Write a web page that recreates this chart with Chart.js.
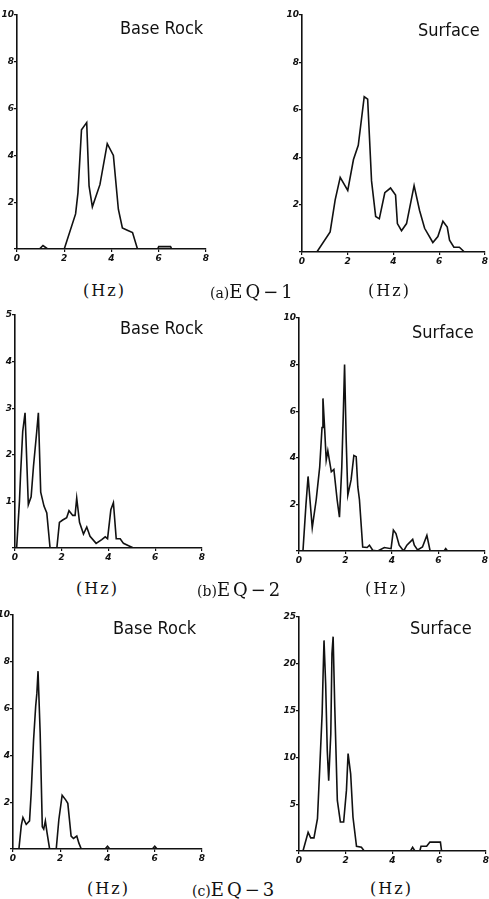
<!DOCTYPE html>
<html>
<head>
<meta charset="utf-8">
<script src="https://cdn.jsdelivr.net/npm/chart.js@4"></script>
<style>
  body { margin:0; background:#fff; }
  #page { position:relative; width:489px; height:899px; overflow:hidden; background:#fff; }
  canvas { position:absolute; }
  .ttl { position:absolute; font-family:"DejaVu Sans Condensed","DejaVu Sans",sans-serif; font-size:18px; line-height:18px; color:#111; white-space:nowrap; }
  .hz { position:absolute; font-family:"DejaVu Serif",serif; font-size:16px; line-height:18px; letter-spacing:2px; color:#111; white-space:nowrap; }
  .eq { position:absolute; font-family:"DejaVu Serif",serif; font-size:18px; line-height:19px; color:#111; white-space:nowrap; }
  .eq small { font-size:14px; letter-spacing:0; }
  .eq span { letter-spacing:3px; }
</style>
</head>
<body>
<div id="page">
  <canvas id="c1"></canvas><canvas id="c2"></canvas>
  <canvas id="c3"></canvas><canvas id="c4"></canvas>
  <canvas id="c5"></canvas><canvas id="c6"></canvas>

  <div class="ttl" style="left:120px;top:19px">Base Rock</div>
  <div class="ttl" style="left:418px;top:21px">Surface</div>
  <div class="ttl" style="left:120px;top:319px">Base Rock</div>
  <div class="ttl" style="left:412px;top:323px">Surface</div>
  <div class="ttl" style="left:113px;top:619px">Base Rock</div>
  <div class="ttl" style="left:410px;top:619px">Surface</div>

  <div class="hz" style="left:83px;top:282px">(Hz)</div>
  <div class="eq" style="left:210px;top:282px"><small>(a)</small><span>EQ−1</span></div>
  <div class="hz" style="left:368px;top:282px">(Hz)</div>
  <div class="hz" style="left:76px;top:580px">(Hz)</div>
  <div class="eq" style="left:197px;top:580px"><small>(b)</small><span>EQ−2</span></div>
  <div class="hz" style="left:365px;top:580px">(Hz)</div>
  <div class="hz" style="left:87px;top:880px">(Hz)</div>
  <div class="eq" style="left:192px;top:880px"><small>(c)</small><span>EQ−3</span></div>
  <div class="hz" style="left:370px;top:880px">(Hz)</div>
</div>
<script>
// Fourier spectra: frequency (Hz) and amplitude
const hzTicks = [0, 2, 4, 6, 8];

// (a) EQ-1
const eq1BaseHz  = [0, 0.95, 1.1, 1.3, 2.0, 2.48, 2.58, 2.73, 2.95, 3.05, 3.19, 3.51, 3.82, 4.08, 4.29, 4.46, 4.67, 4.89, 5.1, 5.95, 6.0, 6.5, 6.55];
const eq1BaseAmp = [0, 0, 0.15, 0, 0, 1.5, 2.4, 5.1, 5.4, 2.7, 1.8, 2.75, 4.5, 4.0, 1.7, 0.9, 0.8, 0.7, 0, 0, 0.1, 0.1, 0];
const eq1SurfHz  = [0, 0.65, 1.23, 1.45, 1.67, 2.0, 2.25, 2.46, 2.72, 2.87, 3.04, 3.22, 3.38, 3.62, 3.87, 4.09, 4.17, 4.35, 4.57, 4.9, 5.14, 5.36, 5.72, 5.94, 6.16, 6.35, 6.45, 6.64, 6.88, 7.1];
const eq1SurfAmp = [0, 0, 0.85, 2.2, 3.15, 2.6, 3.9, 4.5, 6.55, 6.45, 3.0, 1.5, 1.4, 2.5, 2.7, 2.4, 1.2, 0.9, 1.2, 2.8, 1.75, 1.0, 0.4, 0.65, 1.3, 1.05, 0.5, 0.2, 0.2, 0];

// (b) EQ-2
const eq2BaseHz  = [0, 0.07, 0.19, 0.24, 0.33, 0.43, 0.57, 0.69, 0.79, 0.93, 1.0, 1.1, 1.24, 1.36, 1.5, 1.79, 1.9, 2.04, 2.21, 2.31, 2.47, 2.57, 2.64, 2.76, 2.93, 3.07, 3.21, 3.47, 3.71, 3.86, 3.96, 4.1, 4.21, 4.33, 4.5, 4.64, 4.86, 5.07];
const eq2BaseAmp = [0, 0, 1.0, 1.6, 2.5, 2.9, 0.93, 1.1, 1.75, 2.5, 2.9, 1.2, 0.9, 0.75, 0, 0, 0.55, 0.6, 0.65, 0.8, 0.7, 0.7, 1.07, 0.55, 0.3, 0.45, 0.25, 0.1, 0.18, 0.24, 0.2, 0.82, 0.97, 0.2, 0.2, 0.1, 0.05, 0];
const eq2SurfHz  = [0, 0.17, 0.3, 0.39, 0.57, 0.74, 0.89, 0.99, 1.03, 1.1, 1.17, 1.24, 1.39, 1.5, 1.64, 1.74, 1.84, 1.91, 1.96, 2.03, 2.1, 2.24, 2.36, 2.46, 2.53, 2.6, 2.74, 2.93, 3.03, 3.17, 3.39, 3.67, 3.96, 4.06, 4.17, 4.31, 4.5, 4.64, 4.89, 4.96, 5.1, 5.31, 5.5, 5.64, 6.24, 6.31, 6.39];
const eq2SurfAmp = [0, 0, 2.0, 3.2, 1.0, 2.2, 3.6, 5.3, 6.55, 5.3, 3.9, 4.3, 3.4, 3.5, 2.2, 1.45, 3.6, 6.05, 8.0, 4.75, 2.4, 3.05, 4.1, 4.05, 2.75, 2.2, 0.17, 0.15, 0.25, 0.03, 0, 0.15, 0.1, 0.9, 0.75, 0.25, 0, 0.25, 0.5, 0.25, 0.05, 0.17, 0.67, 0, 0, 0.1, 0];

// (c) EQ-3
const eq3BaseHz  = [0, 0.25, 0.35, 0.42, 0.56, 0.7, 0.77, 0.87, 0.96, 1.01, 1.06, 1.15, 1.24, 1.3, 1.37, 1.44, 1.55, 1.83, 1.94, 2.08, 2.23, 2.32, 2.46, 2.56, 2.7, 2.79, 2.89, 3.9, 4.0, 4.1, 5.9, 6.0, 6.1];
const eq3BaseAmp = [0, 0, 1.0, 1.35, 1.05, 1.2, 2.4, 4.65, 6.1, 6.65, 7.6, 4.95, 0.95, 0.85, 1.2, 0.7, 0, 0, 1.25, 2.3, 2.1, 1.95, 0.55, 0.45, 0.55, 0.25, 0, 0, 0.12, 0, 0, 0.12, 0];
const eq3SurfHz  = [0, 0.17, 0.39, 0.5, 0.64, 0.79, 0.89, 0.99, 1.03, 1.07, 1.14, 1.21, 1.27, 1.36, 1.41, 1.46, 1.53, 1.64, 1.77, 1.91, 2.03, 2.1, 2.21, 2.31, 2.46, 2.67, 2.79, 4.77, 4.86, 4.96, 5.17, 5.22, 5.46, 5.6, 6.05, 6.1];
const eq3SurfAmp = [0, 0, 2.0, 1.4, 1.4, 3.45, 9.0, 14.7, 18.8, 22.5, 17.9, 10.7, 7.5, 12.5, 21.1, 22.9, 15.4, 5.4, 3.1, 3.1, 6.5, 10.4, 8.25, 3.6, 0.5, 0.4, 0, 0, 0.4, 0, 0, 0.5, 0.5, 0.95, 0.95, 0];

const INK = '#111';
const tickFont = { family:'DejaVu Sans', size:9, style:'italic', weight:'bold' };
const PADL = 20, PADT = 8, PADR = 8, PADB = 16, YW = 16, XH = 14;

// ox,oy = origin, ex = x at 8 Hz, ty = y at top of amplitude axis
function panel(id, ox, oy, ex, ty, hz, amp, yMax, yStep){
  const cv = document.getElementById(id);
  const w = ex - ox + PADL + PADR, h = oy - ty + PADT + PADB;
  cv.width = w; cv.height = h;
  cv.style.left = (ox - PADL) + 'px'; cv.style.top = (ty - PADT) + 'px';
  cv.style.width = w + 'px'; cv.style.height = h + 'px';
  new Chart(cv, {
    type:'line',
    data:{ datasets:[{ data: hz.map((f,i)=>({x:f, y:amp[i]})), borderColor:INK, borderWidth:1.6, pointRadius:0, tension:0, fill:false }] },
    options:{
      responsive:false, animation:false, devicePixelRatio:1,
      layout:{ padding:{ left:PADL-YW, top:PADT, right:PADR, bottom:PADB-XH } },
      plugins:{ legend:{display:false}, tooltip:{enabled:false} },
      scales:{
        x:{ type:'linear', min:0, max:8, afterBuildTicks:s=>{ s.ticks = hzTicks.map(v=>({value:v})); },
            ticks:{ font:tickFont, color:INK, padding:1, maxRotation:0 },
            grid:{ drawOnChartArea:false, tickLength:3, color:INK, lineWidth:1.2 },
            border:{ color:INK, width:1.6 }, afterFit:s=>{ s.height = XH; } },
        y:{ min:0, max:yMax, ticks:{ stepSize:yStep, font:tickFont, color:INK, padding:0, callback:v=> v===0 ? '' : v },
            grid:{ drawOnChartArea:false, tickLength:3, color:INK, lineWidth:1.2 },
            border:{ color:INK, width:1.6 }, afterFit:s=>{ s.width = YW; } }
      }
    }
  });
}

panel('c1', 17, 249, 206, 15, eq1BaseHz, eq1BaseAmp, 10, 2);
panel('c2', 302, 252, 485, 15, eq1SurfHz, eq1SurfAmp, 10, 2);
panel('c3', 15, 548, 202, 315, eq2BaseHz, eq2BaseAmp, 5, 1);
panel('c4', 299, 551, 485, 318, eq2SurfHz, eq2SurfAmp, 10, 2);
panel('c5', 13, 849, 202, 615, eq3BaseHz, eq3BaseAmp, 10, 2);
panel('c6', 299, 851, 486, 617, eq3SurfHz, eq3SurfAmp, 25, 5);
</script>
</body>
</html>
